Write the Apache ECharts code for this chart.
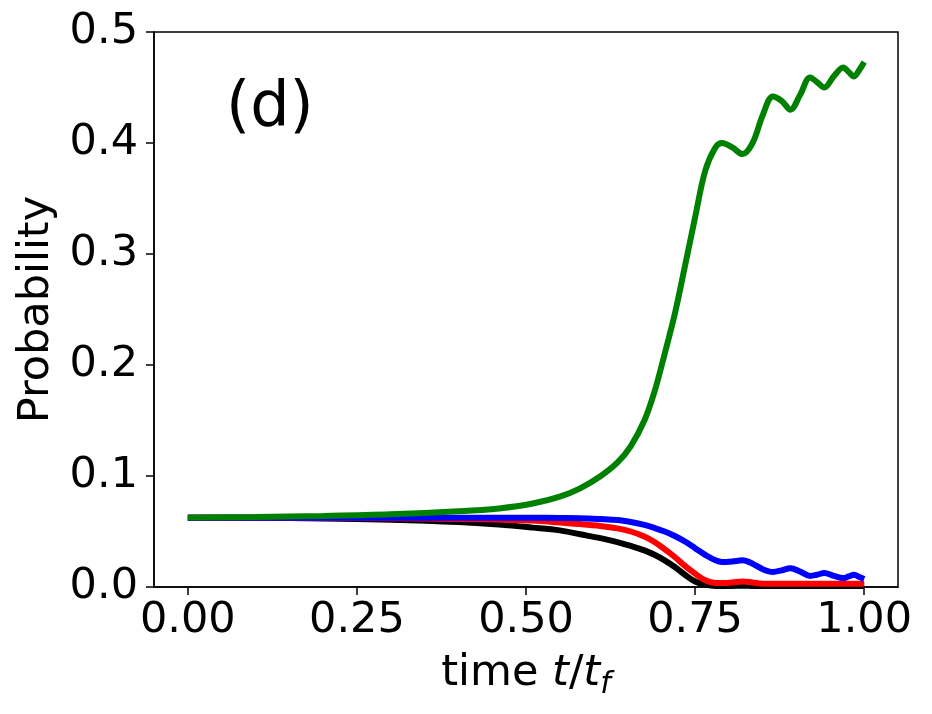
<!DOCTYPE html>
<html>
<head>
<meta charset="utf-8">
<script src="https://cdn.jsdelivr.net/npm/echarts@6/dist/echarts.min.js"></script>
<style>
  html, body { margin: 0; padding: 0; background: #fff; }
  #main { width: 932px; height: 714px; }
</style>
</head>
<body>
<div id="main"></div>
<script>
// time grid t/t_f
const times = [0, 0.1, 0.2, 0.3, 0.4, 0.46, 0.51, 0.55, 0.58, 0.61, 0.635, 0.655, 0.675, 0.69, 0.705,
  0.72, 0.735, 0.75, 0.765, 0.78, 0.79, 0.805, 0.82, 0.835, 0.85, 0.865, 0.878, 0.891, 0.905,
  0.92, 0.93, 0.941, 0.955, 0.969, 0.977, 0.985, 0.993, 1.0];

const blackVals = [0.0625, 0.0623, 0.0617, 0.0606, 0.0585, 0.0562, 0.0535, 0.051, 0.0475, 0.044, 0.0405, 0.037, 0.033, 0.029, 0.024,
  0.018, 0.011, 0.005, 0.0022, 0.001, 0.001, 0.001, 0.0012, 0.001, 0.001, 0.001, 0.001, 0.001, 0.001,
  0.001, 0.001, 0.001, 0.001, 0.001, 0.001, 0.001, 0.001, 0.001];

const redVals = [0.0625, 0.0624, 0.0622, 0.062, 0.0612, 0.0607, 0.0598, 0.058, 0.0567, 0.055, 0.0528, 0.050, 0.0455, 0.0405, 0.034,
  0.027, 0.019, 0.012, 0.006, 0.0035, 0.0035, 0.004, 0.005, 0.004, 0.003, 0.003, 0.003, 0.003, 0.003,
  0.003, 0.003, 0.003, 0.003, 0.003, 0.003, 0.003, 0.003, 0.003];

const blueVals = [0.0625, 0.0625, 0.0625, 0.0625, 0.0625, 0.0625, 0.0624, 0.0622, 0.062, 0.0612, 0.0603, 0.0585, 0.056, 0.0532, 0.050,
  0.046, 0.041, 0.035, 0.029, 0.024, 0.0225, 0.023, 0.024, 0.021, 0.016, 0.0135, 0.015, 0.017, 0.014,
  0.010, 0.011, 0.0126, 0.010, 0.008, 0.0095, 0.011, 0.009, 0.0072];

const greenVals = [0.0625, 0.063, 0.064, 0.0655, 0.0682, 0.0708, 0.0752, 0.0814, 0.0889, 0.0998, 0.112, 0.127, 0.150, 0.176, 0.210,
  0.246, 0.289, 0.333, 0.375, 0.396, 0.400, 0.396, 0.390, 0.400, 0.425, 0.442, 0.438, 0.430, 0.443,
  0.459, 0.455, 0.450, 0.460, 0.468, 0.464, 0.460, 0.466, 0.473];

const xTicks = [0, 0.25, 0.5, 0.75, 1.0];

function pairs(vals) {
  return times.map((t, i) => [t, vals[i]]);
}

function line(name, vals, color) {
  return {
    name: name,
    type: 'line',
    data: pairs(vals),
    smooth: 0.35,
    showSymbol: false,
    lineStyle: { color: color, width: 6 },
    itemStyle: { color: color },
    animation: false
  };
}

const chart = echarts.init(document.getElementById('main'));
const fontFam = 'DejaVu Sans';

chart.setOption({
  backgroundColor: '#ffffff',
  animation: false,
  grid: {
    left: 154, right: 34, top: 32, bottom: 127,
    show: true, borderColor: '#000', borderWidth: 1.5, backgroundColor: 'transparent'
  },
  xAxis: {
    type: 'value',
    min: -0.05,
    max: 1.05,
    name: '{a|time }{i|t}{a|/}{i|t}{s|f}',
    nameLocation: 'middle',
    nameGap: 61,
    nameTextStyle: {
      rich: {
        a: { fontFamily: fontFam, fontSize: 43, color: '#000' },
        i: { fontFamily: fontFam, fontStyle: 'italic', fontSize: 43, color: '#000' },
        s: { fontFamily: fontFam, fontStyle: 'italic', fontSize: 30, color: '#000', padding: [22, 0, 0, 0] }
      }
    },
    splitLine: { show: false },
    axisLine: { show: true, onZero: false, lineStyle: { color: '#000', width: 1.5 } },
    axisTick: { show: true, length: 8, lineStyle: { color: '#000', width: 1.5 }, customValues: xTicks },
    axisLabel: {
      customValues: xTicks,
      formatter: v => v.toFixed(2),
      fontFamily: fontFam, fontSize: 43, color: '#000', margin: 12
    }
  },
  yAxis: {
    type: 'value',
    min: 0,
    max: 0.5,
    interval: 0.1,
    name: 'Probability',
    nameLocation: 'middle',
    nameGap: 92,
    nameTextStyle: { fontFamily: fontFam, fontSize: 43, color: '#000' },
    splitLine: { show: false },
    axisLine: { show: true, onZero: false, lineStyle: { color: '#000', width: 1.5 } },
    axisTick: { show: true, length: 8, lineStyle: { color: '#000', width: 1.5 } },
    axisLabel: {
      formatter: v => v.toFixed(1),
      fontFamily: fontFam, fontSize: 43, color: '#000', margin: 16
    }
  },
  graphic: [{
    type: 'text',
    left: 226,
    top: 78,
    style: { text: '(d)', fontFamily: fontFam, fontSize: 62, fill: '#000' }
  }],
  series: [
    line('black', blackVals, '#000000'),
    line('red', redVals, '#ff0000'),
    line('blue', blueVals, '#0000ff'),
    line('green', greenVals, '#008000')
  ]
});
</script>
</body>
</html>
